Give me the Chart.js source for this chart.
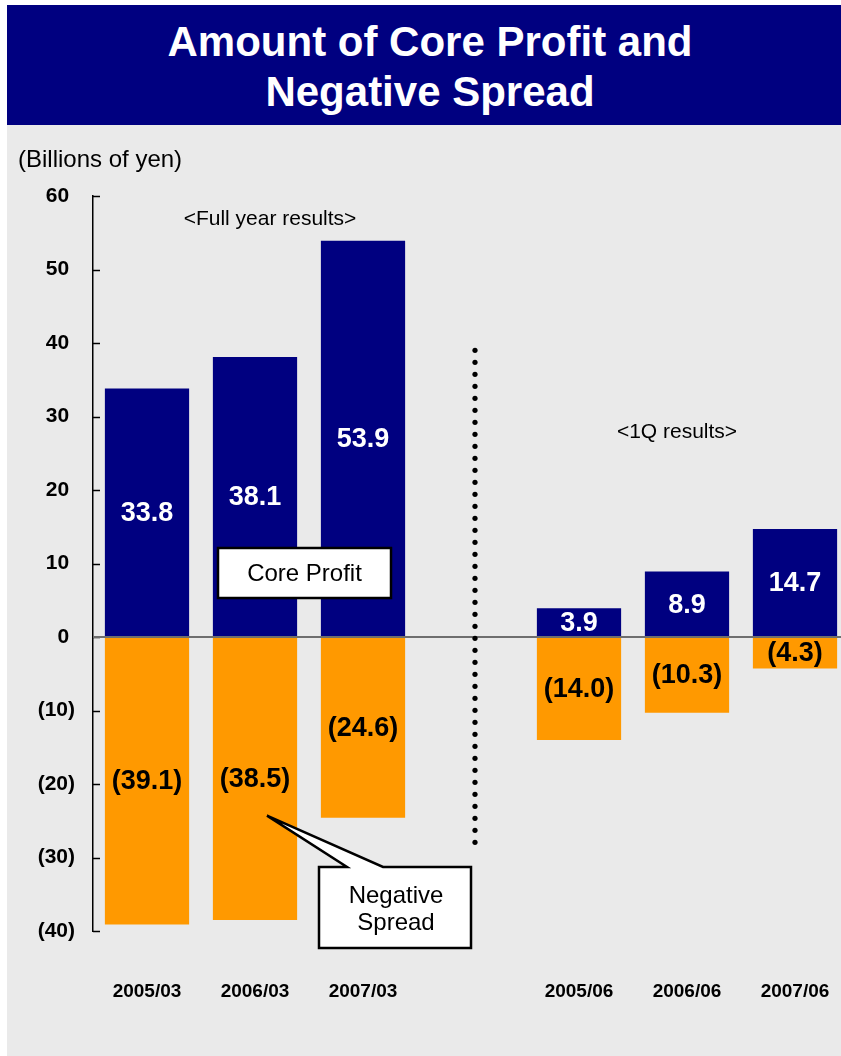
<!DOCTYPE html>
<html>
<head>
<meta charset="utf-8">
<script src="https://cdn.jsdelivr.net/npm/chart.js@4.4.1/dist/chart.umd.min.js"></script>
<style>
  html, body { margin: 0; padding: 0; background: #fff; overflow: hidden; }
  body { width: 841px; height: 1056px; position: relative; font-family: "Liberation Sans", Arial, sans-serif; }
  .banner {
    position: absolute; left: 7px; top: 5px; width: 834px; height: 120px;
    background: #000080; color: #fff; text-align: center;
    font-weight: bold; font-size: 42px; line-height: 50px;
    box-sizing: border-box; padding-top: 12px; padding-left: 12px;
  }
  .panel { position: absolute; left: 7px; top: 125px; right: 0; bottom: 0; background: #eaeaea; }
  .wrap { position: absolute; left: 0; top: 125px; width: 860px; height: 931px; }
</style>
</head>
<body>
<div class="banner">Amount of Core Profit and<br>Negative Spread</div>
<div class="panel"></div>
<div class="wrap"><canvas id="chart" width="860" height="931"></canvas></div>
<script>
const categories = [ '2005/03', '2006/03', '2007/03', '', '2005/06', '2006/06', '2007/06' ];
const coreProfit = [ 33.8, 38.1, 53.9, null, 3.9, 8.9, 14.7 ];
const negativeSpread = [ -39.1, -38.5, -24.6, null, -14.0, -10.3, -4.3 ];
const yMin = -40;
const yMax = 60;
const yStep = 10;

const FONT = '"Liberation Sans", Arial, sans-serif';

const fmt = ( v ) => v < 0 ? '(' + Math.abs( v ).toFixed( 1 ) + ')' : v.toFixed( 1 );

// small tick marks on the inside of the y axis, the zero line, bar values
const decorations = {
  id: 'decorations',
  afterDatasetsDraw( chart ) {
    const { ctx, chartArea, scales: { x, y } } = chart;
    ctx.save();

    ctx.strokeStyle = '#000';
    ctx.lineWidth = 1.5;
    y.ticks.forEach( ( t ) => {
      const py = Math.round( y.getPixelForValue( t.value ) ) + 0.5;
      ctx.beginPath();
      ctx.moveTo( chartArea.left, py );
      ctx.lineTo( chartArea.left + 7, py );
      ctx.stroke();
    } );

    const zy = Math.round( y.getPixelForValue( 0 ) );
    ctx.strokeStyle = '#6e6e6e';
    ctx.lineWidth = 2;
    ctx.beginPath();
    ctx.moveTo( chartArea.left, zy );
    ctx.lineTo( chartArea.right, zy );
    ctx.stroke();

    ctx.font = 'bold 27px ' + FONT;
    ctx.textAlign = 'center';
    ctx.textBaseline = 'middle';
    chart.data.datasets.forEach( ( ds, i ) => {
      chart.getDatasetMeta( i ).data.forEach( ( bar, j ) => {
        const v = ds.data[ j ];
        if ( v === null ) {
          return;
        }
        ctx.fillStyle = v < 0 ? '#000' : '#fff';
        ctx.fillText( fmt( v ), bar.x, ( bar.y + bar.base ) / 2 + 1 );
      } );
    } );

    // dotted divider between full year and 1Q results
    const dx = x.getPixelForValue( 3 ) + 4;
    ctx.fillStyle = '#000';
    for ( let py = y.getPixelForValue( 39 ); py <= y.getPixelForValue( -28.6 ); py += 12 ) {
      ctx.beginPath();
      ctx.arc( dx, py, 2.6, 0, Math.PI * 2 );
      ctx.fill();
    }

    // texts
    ctx.font = '24px ' + FONT;
    ctx.textAlign = 'left';
    ctx.fillText( '(Billions of yen)', 18, 35 );
    ctx.font = '21px ' + FONT;
    ctx.textAlign = 'center';
    ctx.fillText( '<Full year results>', 270, 94 );
    ctx.fillText( '<1Q results>', 677, 307 );

    // Core Profit box
    ctx.strokeStyle = '#000';
    ctx.lineWidth = 2.5;
    ctx.fillStyle = '#fff';
    ctx.fillRect( 218, 423, 173, 50 );
    ctx.strokeRect( 218, 423, 173, 50 );
    ctx.fillStyle = '#000';
    ctx.font = '24px ' + FONT;
    ctx.fillText( 'Core Profit', 304.5, 449 );

    // Negative Spread callout
    const tipX = x.getPixelForValue( 1 ) + 12;
    const tipY = y.getPixelForValue( -24.3 );
    ctx.beginPath();
    ctx.moveTo( 319, 742 );
    ctx.lineTo( 347, 742 );
    ctx.lineTo( tipX, tipY );
    ctx.lineTo( 383, 742 );
    ctx.lineTo( 471, 742 );
    ctx.lineTo( 471, 823 );
    ctx.lineTo( 319, 823 );
    ctx.closePath();
    ctx.fillStyle = '#fff';
    ctx.fill();
    ctx.stroke();
    ctx.fillStyle = '#000';
    ctx.fillText( 'Negative', 396, 771 );
    ctx.fillText( 'Spread', 396, 798 );

    ctx.restore();
  }
};

new Chart( document.getElementById( 'chart' ), {
  type: 'bar',
  data: {
    labels: categories,
    datasets: [ {
      label: 'Core Profit',
      data: coreProfit,
      backgroundColor: '#000080',
      categoryPercentage: 1,
      barPercentage: 0.78,
    }, {
      label: 'Negative Spread',
      data: negativeSpread,
      backgroundColor: '#ff9900',
      categoryPercentage: 1,
      barPercentage: 0.78,
    } ]
  },
  options: {
    responsive: false,
    animation: false,
    layout: {
      padding: { left: 0, right: 11, top: 71, bottom: 0 },
    },
    plugins: {
      legend: { display: false },
      tooltip: { enabled: false },
    },
    scales: {
      x: {
        stacked: true,
        grid: { display: false },
        border: { display: false },
        ticks: {
          color: '#000',
          font: { family: FONT, size: 19, weight: 'bold' },
          padding: 41,
          maxRotation: 0,
          autoSkip: false,
        },
        afterFit: ( scale ) => {
          scale.height = 125;
          scale.paddingLeft = 0;
          scale.paddingRight = 0;
        },
      },
      y: {
        stacked: true,
        min: yMin,
        max: yMax,
        grid: { display: false },
        border: { display: true, color: '#000', width: 1.5 },
        ticks: {
          stepSize: yStep,
          color: '#000',
          padding: 10,
          font: { family: FONT, size: 21, weight: 'bold' },
          callback: ( v ) => v < 0 ? '(' + Math.abs( v ) + ')' : v + ' ',
        },
        afterFit: ( scale ) => { scale.width = 93; },
      }
    }
  },
  plugins: [ decorations ],
} );
</script>
</body>
</html>
